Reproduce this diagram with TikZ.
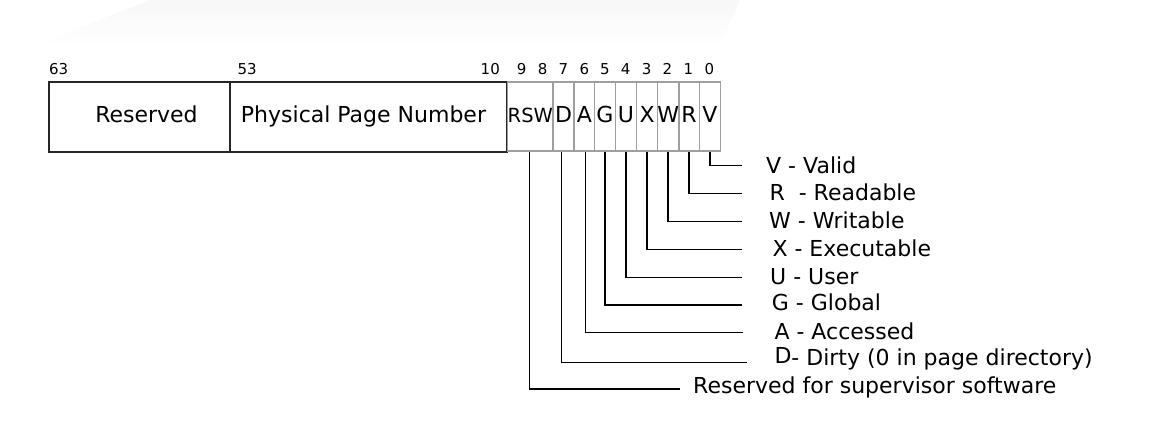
\documentclass[tikz,border=0pt]{standalone}
\usepackage{fontspec}
\setmainfont{DejaVu Sans}
\begin{document}
\begin{tikzpicture}[x=1pt,y=-1pt,
  bigbox/.style={draw=black!85, line width=1.2pt, minimum height=70pt, inner sep=0pt,
    text height=16pt, text depth=5pt, font=\fontsize{22}{26}\selectfont},
  cell/.style={draw=gray!75, line width=1.4pt, minimum height=69pt, inner sep=0pt,
    text height=16pt, text depth=5pt, font=\fontsize{22}{26}\selectfont},
  bitnum/.style={anchor=base, inner sep=0pt, font=\fontsize{15}{18}\selectfont},
  desc/.style={anchor=base west, inner sep=0pt, font=\fontsize{22}{26}\selectfont},
  conn/.style={draw=black, line width=1.5pt}]
\useasboundingbox (0,0) rectangle (1155,427);
\shade[top color=black!3, bottom color=white] (35,45) -- (150,0) -- (740,0) -- (720,45) -- cycle;

% main fields
\node[bigbox, minimum width=181pt] (res) at (139.5,117) {\kern14pt Reserved};
\node[bigbox, minimum width=277pt] (ppn) at (368.5,117) {Physical Page Number\kern10pt};

% flag cells
\node[cell, minimum width=45.3pt, font=\fontsize{19.5}{22}\selectfont] (rsw) at (530.3,116.7) {RSW};
\node[cell, minimum width=21pt] (D) at (563.5,116.7) {D};
\node[cell, minimum width=20.7pt] (A) at (584.3,116.7) {A};
\node[cell, minimum width=20.7pt] (G) at (605,116.7) {G};
\node[cell, minimum width=21.2pt] (U) at (626,116.7) {U};
\node[cell, minimum width=21pt] (X) at (647.2,116.7) {X};
\node[cell, minimum width=21pt] (W) at (668.2,116.7) {W};
\node[cell, minimum width=20.6pt] (R) at (689,116.7) {R};
\node[cell, minimum width=21pt] (V) at (709.8,116.7) {V};

% bit numbers
\node[bitnum, anchor=base west] (b63) at (49,74.5) {63};
\node[bitnum, anchor=base west] (b53) at (237.5,74.5) {53};
\node[bitnum, anchor=base east] (b10) at (500,74.5) {10};
\node[bitnum] (b9) at (521.7,74.5) {9};
\node[bitnum] (b8) at (542.7,74.5) {8};
\node[bitnum] (b7) at (563.3,74.5) {7};
\node[bitnum] (b6) at (584.3,74.5) {6};
\node[bitnum] (b5) at (605,74.5) {5};
\node[bitnum] (b4) at (625.7,74.5) {4};
\node[bitnum] (b3) at (646.7,74.5) {3};
\node[bitnum] (b2) at (667.3,74.5) {2};
\node[bitnum] (b1) at (688.3,74.5) {1};
\node[bitnum] (b0) at (709.3,74.5) {0};

% descriptions
\node[desc] (lV) at (766,173.3) {V - Valid};
\node[desc] (lR) at (769.3,200.7) {R\ \ - Readable};
\node[desc] (lW) at (769,228.3) {W - Writable};
\node[desc] (lX) at (772.3,256.3) {X - Executable};
\node[desc] (lU) at (770,284) {U - User};
\node[desc] (lG) at (771.7,310.7) {G - Global};
\node[desc] (lA) at (774.3,339) {A - Accessed};
\node[desc] (lD) at (774.3,363.5) {D\raisebox{-1.5pt}{- Dirty (0 in page directory)}};
\node[desc] (lRSW) at (693,393.3) {Reserved for supervisor software};

% connector ends
\coordinate (eV) at (741.7,165.7);
\coordinate (eR) at (741.7,193.7);
\coordinate (eW) at (741.7,221.3);
\coordinate (eX) at (741.7,249.3);
\coordinate (eU) at (741.7,277.3);
\coordinate (eG) at (741.7,305);
\coordinate (eA) at (743,332.3);
\coordinate (eD) at (747,362.3);
\coordinate (eRSW) at (680,389);

\draw[conn] (V.south) |- (eV);
\draw[conn] (R.south) |- (eR);
\draw[conn] (W.south) |- (eW);
\draw[conn] (X.south) |- (eX);
\draw[conn] (U.south) |- (eU);
\draw[conn] (G.south) |- (eG);
\draw[conn] ([xshift=1.3pt]A.south) |- (eA);
\draw[conn] ([xshift=-2.2pt]D.south) |- (eD);
\draw[conn] ([xshift=-1pt]rsw.south) |- (eRSW);
\end{tikzpicture}
\end{document}
